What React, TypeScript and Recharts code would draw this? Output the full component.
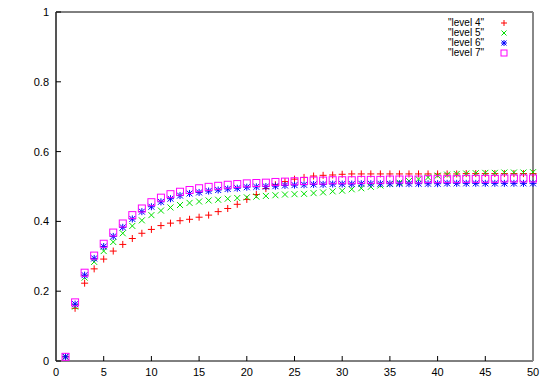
import React from "react";
import { ScatterChart, Scatter, XAxis, YAxis } from "recharts";

const XS = [
  1, 2, 3, 4, 5, 6, 7, 8, 9, 10, 11, 12, 13, 14, 15, 16, 17, 18, 19, 20, 21, 22, 23, 24, 25,
  26, 27, 28, 29, 30, 31, 32, 33, 34, 35, 36, 37, 38, 39, 40, 41, 42, 43, 44, 45, 46, 47, 48, 49, 50,
];

const LEVEL4 = [
  0.012, 0.151, 0.223, 0.264, 0.292, 0.315, 0.334, 0.351, 0.366, 0.377,
  0.388, 0.395, 0.402, 0.406, 0.412, 0.418, 0.428, 0.437, 0.449, 0.463,
  0.477, 0.494, 0.505, 0.514, 0.521, 0.526, 0.530, 0.532, 0.533, 0.535,
  0.536, 0.536, 0.536, 0.536, 0.536, 0.536, 0.536, 0.536, 0.536, 0.536,
  0.536, 0.536, 0.537, 0.537, 0.537, 0.537, 0.537, 0.537, 0.537, 0.537,
];

const LEVEL5 = [
  0.012, 0.156, 0.239, 0.284, 0.315, 0.341, 0.366, 0.387, 0.403, 0.418,
  0.431, 0.440, 0.447, 0.453, 0.457, 0.460, 0.462, 0.465, 0.467, 0.469,
  0.471, 0.473, 0.475, 0.477, 0.478, 0.479, 0.481, 0.483, 0.486, 0.488,
  0.492, 0.495, 0.499, 0.503, 0.507, 0.511, 0.516, 0.521, 0.526, 0.531,
  0.534, 0.536, 0.537, 0.538, 0.539, 0.539, 0.540, 0.540, 0.540, 0.541,
];

const LEVEL6 = [
  0.012, 0.163, 0.246, 0.294, 0.328, 0.357, 0.383, 0.407, 0.428, 0.442,
  0.456, 0.465, 0.474, 0.480, 0.483, 0.487, 0.490, 0.493, 0.495, 0.498,
  0.499, 0.500, 0.501, 0.503, 0.504, 0.505, 0.506, 0.506, 0.507, 0.507,
  0.507, 0.508, 0.508, 0.508, 0.508, 0.508, 0.508, 0.508, 0.508, 0.508,
  0.509, 0.509, 0.509, 0.509, 0.509, 0.509, 0.509, 0.509, 0.509, 0.509,
];

const LEVEL7 = [
  0.012, 0.168, 0.253, 0.302, 0.336, 0.368, 0.394, 0.418, 0.437, 0.455,
  0.468, 0.478, 0.485, 0.490, 0.495, 0.499, 0.502, 0.505, 0.507, 0.509,
  0.510, 0.511, 0.513, 0.514, 0.515, 0.516, 0.517, 0.517, 0.518, 0.518,
  0.518, 0.519, 0.519, 0.519, 0.520, 0.520, 0.520, 0.520, 0.521, 0.521,
  0.521, 0.521, 0.522, 0.522, 0.522, 0.522, 0.523, 0.523, 0.523, 0.523,
];

const X_TICKS = [0, 5, 10, 15, 20, 25, 30, 35, 40, 45, 50];
const Y_TICKS = [0, 0.2, 0.4, 0.6, 0.8, 1];

const FONT = "'Liberation Sans', Arial, sans-serif";

type Kind = "plus" | "cross" | "star" | "box";

function Marker({ cx, cy, kind, color, r = 3.5 }: { cx: number; cy: number; kind: Kind; color: string; r?: number }) {
  const d = r - 0.5;
  if (kind === "box") {
    return <rect x={cx - r} y={cy - r} width={r * 2} height={r * 2} fill="none" stroke={color} strokeWidth={1} />;
  }
  const plus = `M${cx - r},${cy}H${cx + r}M${cx},${cy - r}V${cy + r}`;
  const cross = `M${cx - d},${cy - d}L${cx + d},${cy + d}M${cx - d},${cy + d}L${cx + d},${cy - d}`;
  const path = kind === "plus" ? plus : kind === "cross" ? cross : plus + cross;
  return <path d={path} stroke={color} strokeWidth={1} fill="none" />;
}

const SERIES: { name: string; values: number[]; color: string; kind: Kind }[] = [
  { name: '"level 4"', values: LEVEL4, color: "#ff0000", kind: "plus" },
  { name: '"level 5"', values: LEVEL5, color: "#00e000", kind: "cross" },
  { name: '"level 6"', values: LEVEL6, color: "#0000ff", kind: "star" },
  { name: '"level 7"', values: LEVEL7, color: "#ff00ff", kind: "box" },
];

const tickStyle = { fontSize: 11, fill: "#000", fontFamily: FONT };

export default function App() {
  return (
    <div style={{ position: "absolute", left: 0, top: 0, width: 545, height: 382, background: "#fff" }}>
      <ScatterChart width={545} height={382} margin={{ top: 11, right: 11, bottom: 0, left: 0 }}>
        <XAxis
          type="number"
          dataKey="x"
          domain={[0, 50]}
          ticks={X_TICKS}
          height={21}
          tickSize={-5}
          tickMargin={12}
          tick={tickStyle}
          axisLine={{ stroke: "#000" }}
          tickLine={{ stroke: "#000" }}
        />
        <XAxis
          xAxisId="top"
          orientation="top"
          type="number"
          dataKey="x"
          domain={[0, 50]}
          ticks={X_TICKS}
          height={1}
          tickSize={-5}
          tickFormatter={() => ""}
          axisLine={{ stroke: "#000" }}
          tickLine={{ stroke: "#000" }}
        />
        <YAxis
          type="number"
          dataKey="y"
          domain={[0, 1]}
          ticks={Y_TICKS}
          width={56}
          tickSize={-5}
          tickMargin={12}
          tick={tickStyle}
          tickFormatter={(v: number) => String(v)}
          axisLine={{ stroke: "#555", strokeWidth: 2 }}
          tickLine={{ stroke: "#000" }}
        />
        <YAxis
          yAxisId="right"
          orientation="right"
          type="number"
          dataKey="y"
          domain={[0, 1]}
          ticks={Y_TICKS}
          width={1}
          tickSize={-5}
          tickFormatter={() => ""}
          axisLine={{ stroke: "#888", strokeWidth: 2 }}
          tickLine={{ stroke: "#000" }}
        />
        {SERIES.map((s) => (
          <Scatter
            key={s.name}
            name={s.name}
            data={XS.map((x, i) => ({ x, y: s.values[i] }))}
            isAnimationActive={false}
            shape={(p: any) => <Marker cx={p.cx} cy={p.cy} kind={s.kind} color={s.color} />}
          />
        ))}
      </ScatterChart>
      <div style={{ position: "absolute", left: 400, top: 18, fontFamily: FONT, fontSize: 10, color: "#000" }}>
        {SERIES.map((s) => (
          <div key={s.name} style={{ display: "flex", alignItems: "center", height: 10, lineHeight: "10px" }}>
            <span style={{ width: 84, textAlign: "right", whiteSpace: "nowrap" }}>{s.name}</span>
            <svg width={40} height={10} style={{ overflow: "visible" }}>
              <Marker cx={20} cy={5} kind={s.kind} color={s.color} r={3} />
            </svg>
          </div>
        ))}
      </div>
    </div>
  );
}
